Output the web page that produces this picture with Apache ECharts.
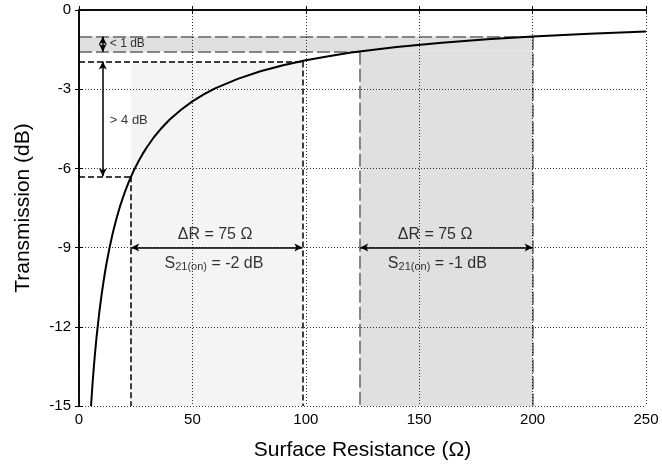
<!DOCTYPE html>
<html>
<head>
<meta charset="utf-8">
<script src="https://cdn.jsdelivr.net/npm/echarts@6/dist/echarts.min.js"></script>
<style>
  html, body { margin: 0; padding: 0; background: #fff; }
  #chart { width: 662px; height: 468px; }
</style>
</head>
<body>
<div id="chart"></div>
<script>
// curve
var resistance = [5.3, 5.6, 6, 6.5, 7, 7.5, 8, 9, 10, 11, 12, 13.5, 15, 16.5, 18, 20, 22, 23, 24, 26, 28, 30, 33, 36, 40, 45, 50, 55, 60, 70, 80, 90, 100, 110, 120, 140, 160, 180, 200, 225, 250];
var transmission = [-15.0, -14.61, -14.12, -13.57, -13.06, -12.60, -12.18, -11.42, -10.76, -10.18, -9.66, -8.99, -8.41, -7.91, -7.46, -6.95, -6.50, -6.30, -6.11, -5.77, -5.46, -5.19, -4.82, -4.51, -4.15, -3.78, -3.46, -3.20, -2.97, -2.61, -2.32, -2.09, -1.90, -1.75, -1.61, -1.40, -1.24, -1.11, -1.00, -0.90, -0.81];

var xTicks = [0, 50, 100, 150, 200, 250];
var yTicks = [0, -3, -6, -9, -12, -15];

// shaded windows [x1, y1, x2, y2]
var lightBox = [23, -15, 98.5, -1.95];
var darkBox = [124, -15, 200, -1.58];
var darkBand = [0, -1.58, 200, -1.0];

// dashed guides [x1, y1, x2, y2]
var blackGuides = [
    [0, -1.95, 98.5, -1.95],
    [0, -6.3, 23, -6.3],
    [23, -6.3, 23, -15],
    [98.5, -1.95, 98.5, -15]
];
var grayGuides = [
    [0, -1.0, 200, -1.0],
    [0, -1.58, 124, -1.58],
    [124, -1.58, 124, -15],
    [200, -1.0, 200, -15]
];

// double arrows [x1, y1, x2, y2]
var arrows = [
    [10.5, -1.0, 10.5, -1.58],
    [10.5, -1.95, 10.5, -6.3],
    [23, -9, 98.5, -9],
    [124, -9, 200, -9]
];

// annotations [x, y, text, align, size]
var notes = [
    [13.6, -1.28, '< 1 dB', 'left', 12],
    [13.6, -4.2, '> 4 dB', 'left', 13],
    [60, -8.5, 'ΔR = 75 Ω', 'center', 16],
    [59.5, -9.6, 'S{sub|21(on)} = -2 dB', 'center', 16],
    [157, -8.5, 'ΔR = 75 Ω', 'center', 16],
    [158, -9.6, 'S{sub|21(on)} = -1 dB', 'center', 16]
];

(function () {
    var myChart = echarts.init(document.getElementById('chart'));
    var font = 'Liberation Sans, Arial, Helvetica, sans-serif';

    function box(b, color) {
        return [{ coord: [b[0], b[1]], itemStyle: { color: color } }, { coord: [b[2], b[3]] }];
    }
    function seg(s, style) {
        return [{ coord: [s[0], s[1]], lineStyle: style }, { coord: [s[2], s[3]] }];
    }

    var guideData = [];
    blackGuides.forEach(function (s) {
        guideData.push(seg(s, { color: '#000', width: 1.5, type: [6, 3] }));
    });
    grayGuides.forEach(function (s) {
        guideData.push(seg(s, { color: '#858585', width: 2, type: [13, 4] }));
    });

    var curve = resistance.map(function (r, i) { return [r, transmission[i]]; });

    var axisCommon = {
        axisLine: { show: true, lineStyle: { color: '#000', width: 1.5 } },
        axisTick: { show: true, inside: true, length: 4, lineStyle: { color: '#000' } },
        splitLine: { show: false }
    };

    option = {
        backgroundColor: '#fff',
        animation: false,
        textStyle: { fontFamily: font },
        grid: { left: 79, right: 16, top: 10, bottom: 62, containLabel: false },
        xAxis: [
            Object.assign({
                type: 'value', min: 0, max: 250, interval: 50, z: 10,
                name: 'Surface Resistance (Ω)', nameLocation: 'middle', nameGap: 34,
                nameTextStyle: { fontSize: 21, color: '#000', fontFamily: font },
                axisLabel: {
                    fontSize: 15, color: '#000', margin: 6, fontFamily: font,
                    formatter: function (v) { return xTicks.indexOf(v) >= 0 ? v : ''; }
                }
            }, axisCommon, {
                splitLine: { show: true, lineStyle: { color: '#000', width: 0.8, type: [1, 2] } }
            }),
            Object.assign({ type: 'value', position: 'top', min: 0, max: 250, interval: 50, z: 10, axisLabel: { show: false } }, axisCommon)
        ],
        yAxis: [
            Object.assign({
                type: 'value', min: -15, max: 0, interval: 3, z: 10,
                name: 'Transmission (dB)', nameLocation: 'middle', nameGap: 45,
                nameTextStyle: { fontSize: 21, color: '#000', fontFamily: font },
                axisLabel: {
                    fontSize: 15, color: '#000', margin: 8, fontFamily: font,
                    formatter: function (v) { return yTicks.indexOf(v) >= 0 ? v : ''; }
                }
            }, axisCommon, {
                splitLine: { show: true, lineStyle: { color: '#000', width: 0.8, type: [1, 2] } }
            }),
            Object.assign({ type: 'value', position: 'right', min: -15, max: 0, interval: 3, z: 10, axisLabel: { show: false } }, axisCommon)
        ],
        series: [
            {
                name: 'shade',
                type: 'line',
                data: [],
                z: 1,
                markArea: {
                    silent: true,
                    data: [box(lightBox, '#f4f4f4'), box(darkBox, '#e0e0e0'), box(darkBand, '#e0e0e0')]
                }
            },
            {
                name: 'guides',
                type: 'line',
                data: [],
                z: 3,
                markLine: {
                    silent: true,
                    symbol: 'none',
                    label: { show: false },
                    data: guideData
                }
            },
            {
                name: 'curve',
                type: 'line',
                data: curve,
                smooth: false,
                showSymbol: false,
                clip: true,
                z: 5,
                lineStyle: { color: '#000', width: 2 }
            },
            {
                name: 'arrows',
                type: 'line',
                data: [],
                z: 6,
                markLine: {
                    silent: true,
                    symbol: ['arrow', 'arrow'],
                    symbolSize: [6, 8],
                    label: { show: false },
                    lineStyle: { color: '#000', width: 1.5, type: 'solid' },
                    data: arrows.map(function (a) { return [{ coord: [a[0], a[1]] }, { coord: [a[2], a[3]] }]; })
                }
            },
            {
                name: 'notes',
                type: 'scatter',
                symbolSize: 0,
                z: 7,
                data: notes.map(function (n) {
                    return {
                        value: [n[0], n[1]],
                        label: {
                            show: true,
                            position: 'inside',
                            align: n[3],
                            verticalAlign: 'middle',
                            formatter: n[2],
                            color: '#000',
                            fontSize: n[4],
                            fontFamily: font,
                            rich: {
                                sub: { fontSize: 11, verticalAlign: 'bottom', padding: [7, 0, 0, 0], fontFamily: font, color: '#000' }
                            }
                        }
                    };
                })
            }
        ]
    };
    myChart.setOption(option);
    window.addEventListener('resize', function () {
        myChart.resize();
    });
})();
</script>
</body>
</html>
